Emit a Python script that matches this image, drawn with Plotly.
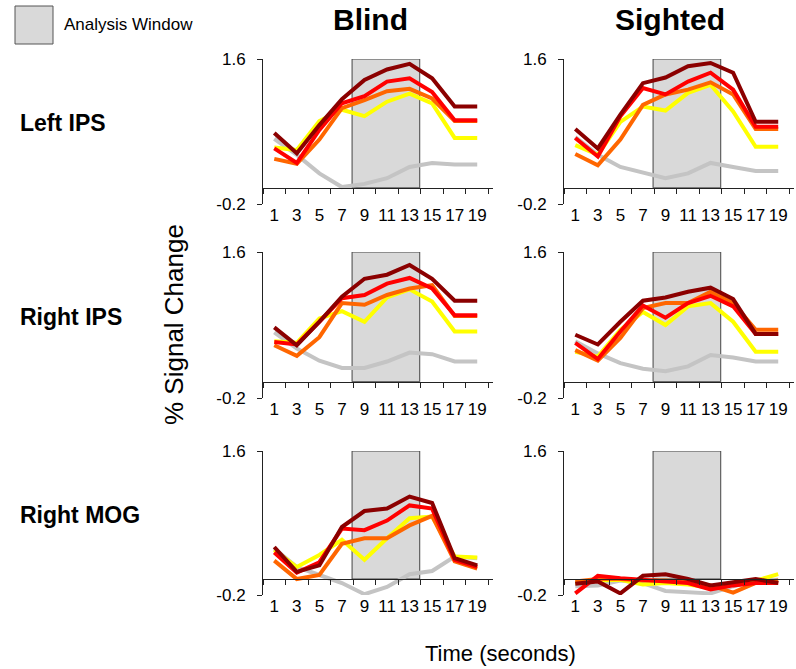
import plotly.graph_objects as go

# ---------------- data ----------------
TIME = [1, 3, 5, 7, 9, 11, 13, 15, 17, 19]
X_TICKS = [1, 3, 5, 7, 9, 11, 13, 15, 17, 19]
X_MINOR_TICKS = [0, 2, 4, 6, 8, 10, 12, 14, 16, 18, 20]
Y_TICKS = [-0.2, 1.6]
Y_TICK_TEXT = ["-0.2", "1.6"]
WINDOW = [7.9, 13.9]
WINDOW_TOP = 1.6
COLUMNS = ["Blind", "Sighted"]
ROWS = ["Left IPS", "Right IPS", "Right MOG"]

SERIES = ["gray", "yellow", "orange", "red", "darkred"]
SERIES_COLORS = {"gray": "#c4c4c4", "yellow": "#ffff00", "orange": "#ff6600",
                 "red": "#ff0000", "darkred": "#8b0000"}

# Blind – Left IPS
bl_lips_darkred = [0.68, 0.43, 0.78, 1.10, 1.34, 1.47, 1.54, 1.36, 1.01, 1.01]
bl_lips_red = [0.49, 0.31, 0.72, 1.05, 1.14, 1.32, 1.36, 1.19, 0.84, 0.84]
bl_lips_orange = [0.36, 0.30, 0.60, 0.99, 1.09, 1.20, 1.23, 1.11, 0.83, 0.83]
bl_lips_yellow = [0.50, 0.47, 0.83, 0.97, 0.89, 1.07, 1.17, 1.05, 0.62, 0.62]
bl_lips_gray = [0.61, 0.41, 0.18, 0.01, 0.05, 0.12, 0.26, 0.31, 0.29, 0.29]

# Sighted – Left IPS
si_lips_darkred = [0.73, 0.49, 0.91, 1.30, 1.37, 1.51, 1.55, 1.43, 0.82, 0.82]
si_lips_red = [0.62, 0.39, 0.89, 1.24, 1.16, 1.32, 1.43, 1.22, 0.76, 0.76]
si_lips_orange = [0.42, 0.28, 0.60, 1.03, 1.16, 1.22, 1.31, 1.16, 0.73, 0.73]
si_lips_yellow = [0.53, 0.41, 0.82, 1.01, 0.96, 1.18, 1.28, 0.95, 0.51, 0.51]
si_lips_gray = [0.63, 0.41, 0.26, 0.19, 0.12, 0.18, 0.31, 0.26, 0.21, 0.21]

# Blind – Right IPS
bl_rips_darkred = [0.67, 0.45, 0.74, 1.05, 1.27, 1.32, 1.44, 1.27, 1.00, 1.00]
bl_rips_red = [0.49, 0.46, 0.74, 1.03, 1.07, 1.21, 1.28, 1.15, 0.82, 0.82]
bl_rips_orange = [0.45, 0.32, 0.55, 0.97, 0.95, 1.07, 1.15, 1.19, 0.81, 0.81]
bl_rips_yellow = [0.50, 0.48, 0.78, 0.87, 0.74, 1.04, 1.14, 0.99, 0.62, 0.62]
bl_rips_gray = [0.61, 0.41, 0.26, 0.17, 0.17, 0.25, 0.36, 0.34, 0.25, 0.25]

# Sighted – Right IPS
si_rips_darkred = [0.58, 0.46, 0.74, 1.00, 1.04, 1.11, 1.16, 1.02, 0.59, 0.59]
si_rips_red = [0.48, 0.28, 0.62, 0.94, 0.79, 0.97, 1.06, 0.93, 0.59, 0.59]
si_rips_orange = [0.39, 0.26, 0.54, 0.91, 0.97, 0.97, 1.11, 0.97, 0.64, 0.64]
si_rips_yellow = [0.37, 0.31, 0.64, 0.86, 0.70, 0.93, 0.97, 0.74, 0.37, 0.37]
si_rips_gray = [0.50, 0.35, 0.23, 0.16, 0.13, 0.19, 0.33, 0.30, 0.25, 0.25]

# Blind – Right MOG
bl_rmog_darkred = [0.40, 0.09, 0.17, 0.65, 0.85, 0.88, 1.03, 0.95, 0.26, 0.17]
bl_rmog_red = [0.33, 0.08, 0.21, 0.63, 0.61, 0.73, 0.92, 0.88, 0.24, 0.15]
bl_rmog_orange = [0.23, 0.00, 0.05, 0.44, 0.51, 0.51, 0.67, 0.79, 0.22, 0.13]
bl_rmog_yellow = [0.36, 0.15, 0.30, 0.49, 0.24, 0.51, 0.76, 0.78, 0.28, 0.27]
bl_rmog_gray = [0.38, 0.15, 0.05, -0.05, -0.19, -0.10, 0.06, 0.10, 0.28, 0.26]

# Sighted – Right MOG
si_rmog_darkred = [-0.06, -0.03, -0.18, 0.04, 0.06, 0.00, -0.08, -0.04, 0.00, -0.05]
si_rmog_red = [-0.18, 0.04, 0.01, -0.01, -0.02, -0.05, -0.13, -0.08, -0.05, -0.05]
si_rmog_orange = [-0.03, 0.00, 0.00, -0.02, -0.02, -0.04, -0.08, -0.17, -0.05, -0.02]
si_rmog_yellow = [-0.05, -0.02, -0.01, -0.07, -0.05, -0.07, -0.11, -0.05, -0.02, 0.06]
si_rmog_gray = [-0.09, -0.08, -0.02, -0.05, -0.15, -0.17, -0.18, -0.09, -0.02, -0.01]

PANELS = [
    {"gray": bl_lips_gray, "yellow": bl_lips_yellow, "orange": bl_lips_orange,
     "red": bl_lips_red, "darkred": bl_lips_darkred},
    {"gray": si_lips_gray, "yellow": si_lips_yellow, "orange": si_lips_orange,
     "red": si_lips_red, "darkred": si_lips_darkred},
    {"gray": bl_rips_gray, "yellow": bl_rips_yellow, "orange": bl_rips_orange,
     "red": bl_rips_red, "darkred": bl_rips_darkred},
    {"gray": si_rips_gray, "yellow": si_rips_yellow, "orange": si_rips_orange,
     "red": si_rips_red, "darkred": si_rips_darkred},
    {"gray": bl_rmog_gray, "yellow": bl_rmog_yellow, "orange": bl_rmog_orange,
     "red": bl_rmog_red, "darkred": bl_rmog_darkred},
    {"gray": si_rmog_gray, "yellow": si_rmog_yellow, "orange": si_rmog_orange,
     "red": si_rmog_red, "darkred": si_rmog_darkred},
]

# ---------------- layout geometry (pixels) ----------------
W, H = 796, 669
COL_PX = [(263, 493), (564, 794)]
ROW_PX = [(59, 204), (252, 398), (451, 595)]
Y_RANGE = [-0.2, 1.6]
X_RANGE = [0, 20.4]
FONT = "Liberation Sans, Arial, Helvetica, sans-serif"

fig = go.Figure()
layout = dict(width=W, height=H,
              margin=dict(l=0, r=0, t=0, b=0, pad=0, autoexpand=False),
              paper_bgcolor="white", plot_bgcolor="white", showlegend=False,
              font=dict(family=FONT, color="black"))
shapes = []
annotations = []

for i, panel in enumerate(PANELS):
    r, c = divmod(i, 2)
    n = i + 1
    xs = "" if n == 1 else str(n)
    x0p, x1p = COL_PX[c]
    ytop, ybot = ROW_PX[r]
    ydom = [1 - ybot / H, 1 - ytop / H]
    zero_px = ybot - (0 - Y_RANGE[0]) / (Y_RANGE[1] - Y_RANGE[0]) * (ybot - ytop)
    layout["xaxis" + xs] = dict(
        domain=[x0p / W, x1p / W], range=X_RANGE, anchor="free",
        position=1 - zero_px / H, showgrid=False, zeroline=False,
        automargin=False,
        showline=True, linecolor="#222", linewidth=1,
        tickmode="array", tickvals=X_TICKS, ticktext=[str(t) for t in X_TICKS],
        ticks="", ticklabelstandoff=12,
        tickfont=dict(size=17, family=FONT, color="black"),
        minor=dict(tickmode="array", tickvals=X_MINOR_TICKS, ticks="outside",
                   ticklen=5, tickcolor="#222", tickwidth=1, showgrid=False),
    )
    layout["yaxis" + xs] = dict(
        domain=ydom, range=Y_RANGE, anchor="x" + xs, showgrid=False,
        zeroline=False, automargin=False,
        showline=True, linecolor="#222", linewidth=1,
        tickmode="array", tickvals=Y_TICKS, ticktext=Y_TICK_TEXT,
        ticks="outside", ticklen=5, tickcolor="#222",
        ticklabelstandoff=8,
        tickfont=dict(size=17, family=FONT, color="black"),
    )
    shapes.append(dict(type="rect", xref="x" + xs, yref="y" + xs,
                       x0=WINDOW[0], x1=WINDOW[1], y0=0, y1=WINDOW_TOP,
                       fillcolor="#d9d9d9", line=dict(color="#444", width=1),
                       layer="below"))
    for s in SERIES:
        fig.add_trace(go.Scatter(x=TIME, y=panel[s], mode="lines",
                                 line=dict(color=SERIES_COLORS[s], width=4),
                                 xaxis="x" + xs, yaxis="y" + xs,
                                 hoverinfo="skip"))

# column titles
for c, title in enumerate(COLUMNS):
    cx = {0: 370, 1: 670}[c]
    annotations.append(dict(text="<b>%s</b>" % title, x=cx / W, y=1 - 19 / H,
                            xref="paper", yref="paper", showarrow=False,
                            xanchor="center", yanchor="middle",
                            font=dict(size=30, family=FONT, color="black")))
# row labels
for r, name in enumerate(ROWS):
    cy = [123, 317, 515][r]
    annotations.append(dict(text="<b>%s</b>" % name, x=18 / W, y=1 - cy / H,
                            xref="paper", yref="paper", showarrow=False,
                            xanchor="left", yanchor="middle",
                            font=dict(size=23, family=FONT, color="black")))
# axis titles
annotations.append(dict(text="% Signal Change", x=174 / W, y=1 - 325 / H,
                        xref="paper", yref="paper", showarrow=False, textangle=-90,
                        xanchor="center", yanchor="middle",
                        font=dict(size=26, family=FONT, color="black")))
annotations.append(dict(text="Time (seconds)", x=500 / W, y=1 - 653 / H,
                        xref="paper", yref="paper", showarrow=False,
                        xanchor="center", yanchor="middle",
                        font=dict(size=22, family=FONT, color="black")))
# legend for analysis window
shapes.append(dict(type="rect", xref="paper", yref="paper",
                   x0=15 / W, x1=53 / W, y0=1 - 44 / H, y1=1 - 6 / H,
                   fillcolor="#d9d9d9", line=dict(color="#555", width=1)))
annotations.append(dict(text="Analysis Window", x=62 / W, y=1 - 25 / H,
                        xref="paper", yref="paper", showarrow=False,
                        xanchor="left", yanchor="middle",
                        font=dict(size=17, family=FONT, color="black")))

layout["shapes"] = shapes
layout["annotations"] = annotations
fig.update_layout(**layout)
fig.write_html("out.html",
               config={"displayModeBar": False, "staticPlot": True},
               post_script="document.body.style.margin='0px';"
                           "document.body.style.padding='0px';")
